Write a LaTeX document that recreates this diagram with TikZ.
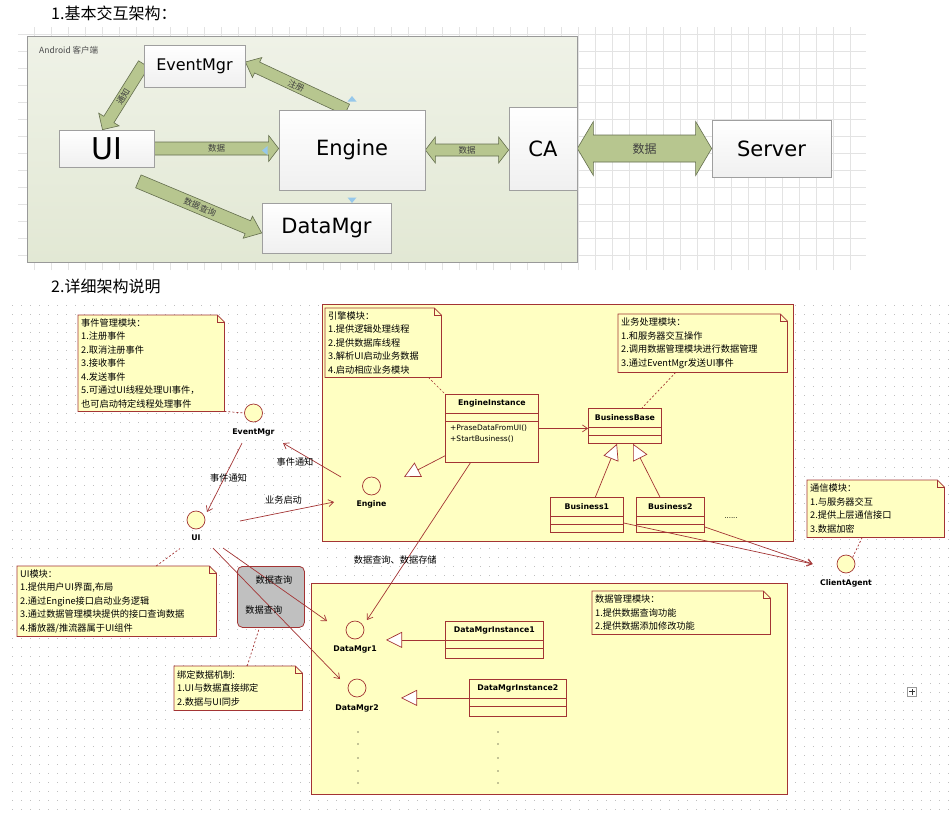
\documentclass[tikz,border=0pt]{standalone}
\usepackage{fontspec}
\setmainfont{Noto Sans CJK SC}
\newfontfamily\boxfont{DejaVu Sans}
\usetikzlibrary{arrows.meta,calc,backgrounds,positioning}

\definecolor{umlred}{RGB}{163,52,52}
\definecolor{umlyellow}{RGB}{255,255,194}
\definecolor{arrowfill}{RGB}{183,198,143}
\definecolor{arrowline}{RGB}{100,110,78}
\definecolor{droidtop}{RGB}{239,242,231}
\definecolor{droidbot}{RGB}{226,232,212}
\definecolor{handleblue}{RGB}{150,200,235}
\definecolor{selgray}{RGB}{192,192,192}

\pgfdeclarelayer{fatlayer}
\pgfsetlayers{background,fatlayer,main}

\tikzset{
  gridline/.style={draw=gray!22, line width=0.5pt},
  dotrow/.style={draw=gray!50, line width=0.9pt, dash pattern=on 0.9pt off 8.1pt},
  droidbox/.style={draw=gray!80, top color=droidtop, bottom color=droidbot, line width=0.7pt},
  topbox/.style={draw=gray!75, top color=white, bottom color=gray!12, inner sep=0pt, font=\boxfont, line width=0.7pt},
  fatarrow/.style={draw=arrowline, fill=arrowfill, line width=0.6pt, line join=miter},
  fatlabel/.style={font=\fontsize{8.5}{9}\selectfont, text=black!75},
  pkg/.style={draw=umlred, fill=umlyellow, line width=0.8pt, inner sep=0pt, anchor=north west},
  selbox/.style={draw=umlred, fill=selgray, rounded corners=5pt, line width=0.8pt, inner sep=0pt, anchor=north west},
  notebox/.style={inner sep=3pt, align=left, anchor=north west, font=\fontsize{9.2}{13.5}\selectfont},
  noteline/.style={draw=umlred, fill=umlyellow, line width=0.8pt},
  notelink/.style={draw=umlred, line width=0.7pt, dash pattern=on 2pt off 2pt},
  iface/.style={circle, draw=umlred, fill=umlyellow, line width=0.7pt, minimum size=18pt, inner sep=0pt},
  ifacename/.style={font=\boxfont\bfseries\fontsize{7.8}{8}\selectfont, inner sep=1pt},
  classbox/.style={draw=umlred, fill=umlyellow, line width=0.8pt, inner sep=0pt, anchor=north west},
  classtitle/.style={font=\boxfont\bfseries\fontsize{7.8}{8}\selectfont, inner sep=0pt},
  classops/.style={font=\boxfont\fontsize{7.5}{10.7}\selectfont, align=left, inner sep=0pt, anchor=north west},
  flow/.style={draw=umlred, line width=0.7pt, -{Straight Barb[length=5pt,width=7pt]}},
  realize/.style={draw=umlred, line width=0.7pt, -{Triangle[length=16pt,width=16pt,fill=white]}},
  flowlabel/.style={font=\fontsize{9.2}{10}\selectfont, inner sep=1pt},
}

% fat block arrow: tail, tip, half shaft, half head, head length
\newcommand\fatarrow[5]{%
  \coordinate (fa-h) at ($(#2)!#5!(#1)$);
  \filldraw[fatarrow] ($(#1)!#3!90:(#2)$) -- ($(fa-h)!#3!90:(#2)$) -- ($(fa-h)!#4!90:(#2)$) -- (#2)
    -- ($(fa-h)!#4!-90:(#2)$) -- ($(fa-h)!#3!-90:(#2)$) -- ($(#1)!#3!-90:(#2)$) -- cycle;}
\newcommand\fatdouble[5]{%
  \coordinate (fd-a) at ($(#1)!#5!(#2)$);
  \coordinate (fd-b) at ($(#2)!#5!(#1)$);
  \filldraw[fatarrow] (#1) -- ($(fd-a)!#4!90:(#2)$) -- ($(fd-a)!#3!90:(#2)$) -- ($(fd-b)!#3!90:(#2)$)
    -- ($(fd-b)!#4!90:(#2)$) -- (#2) -- ($(fd-b)!#4!-90:(#2)$) -- ($(fd-b)!#3!-90:(#2)$)
    -- ($(fd-a)!#3!-90:(#2)$) -- ($(fd-a)!#4!-90:(#2)$) -- cycle;}
% note with folded corner
\newcommand\foldnote[1]{%
  \begin{scope}[on background layer]
    \path[noteline] (#1.north west) -- ([xshift=-7pt]#1.north east) -- ([yshift=-7pt]#1.north east)
      -- (#1.south east) -- (#1.south west) -- cycle;
    \draw[umlred, line width=0.8pt] ([xshift=-7pt]#1.north east) |- ([yshift=-7pt]#1.north east);
  \end{scope}}
% uml class: name, north west corner, width, height, title
\newcommand\umlclass[5]{%
  \node[classbox, minimum width=#3pt, minimum height=#4pt] (#1) at (#2) {};
  \node[classtitle] (#1-t) at ($(#1.north)+(0,9.5)$) {#5};
  \draw[umlred, line width=0.8pt] ($(#1.north west)+(0,19)$) -- ($(#1.north east)+(0,19)$);
  \draw[umlred, line width=0.8pt] ($(#1.north west)+(0,27)$) -- ($(#1.north east)+(0,27)$);}

\begin{document}
\begin{tikzpicture}[x=1pt, y=-1pt]
\useasboundingbox (0,0) rectangle (951,814);

\begin{scope}[on background layer]
  \fill[white] (0,0) rectangle (951,814);
  \draw[gridline, step=17pt] (18,27) grid (866,270);
  \node[droidbox, anchor=north west, minimum width=550pt, minimum height=226pt] (droid) at (27,36) {};
  \foreach \y in {305,314,...,812} \draw[dotrow] (12,\y) -- (951,\y);
  \node[pkg, minimum width=471pt, minimum height=237pt] (engpkg) at (322,304) {};
  \node[pkg, minimum width=476pt, minimum height=211pt] (dmpkg) at (311,583) {};
  \node[selbox, minimum width=67pt, minimum height=61pt] (selbox) at (237,566) {};
\end{scope}

% titles
\node[anchor=west, font=\fontsize{16}{16}\selectfont, inner sep=0pt] (title-one) at (51,13) {1.基本交互架构：};
\node[anchor=west, font=\fontsize{16}{16}\selectfont, inner sep=0pt] (title-two) at (51,286) {2.详细架构说明};

% 1. basic interaction
\node[anchor=west, font=\fontsize{8.5}{9}\selectfont, text=black!70, inner sep=0pt] (droid-l) at (39,50) {Android 客户端};
\node[topbox, minimum width=101pt, minimum height=42pt, font=\boxfont\fontsize{16}{16}\selectfont] (evtbox) at (194.5,66) {EventMgr};
\node[topbox, minimum width=95pt, minimum height=37pt, font=\boxfont\fontsize{30}{30}\selectfont] (uibox) at (106.5,148.5) {UI};
\node[topbox, minimum width=146pt, minimum height=80pt, font=\boxfont\fontsize{21}{21}\selectfont] (engbox) at (352,150) {Engine};
\node[topbox, minimum width=129pt, minimum height=50pt, font=\boxfont\fontsize{21}{21}\selectfont] (dmbox) at (326.5,228) {DataMgr};
\node[topbox, minimum width=68pt, minimum height=83pt, font=\boxfont\fontsize{21}{21}\selectfont] (cabox) at (543,148.5) {CA};
\node[topbox, minimum width=119pt, minimum height=57pt, font=\boxfont\fontsize{21}{21}\selectfont] (srvbox) at (771.5,148.5) {Server};

\coordinate (ntf-tail) at ([yshift=2pt]evtbox.west);
\coordinate (ntf-tip) at ([xshift=-4pt]uibox.north);
\coordinate (reg-tail) at ([xshift=-5pt]engbox.north);
\coordinate (reg-tip) at ([yshift=4pt]evtbox.east);
\coordinate (dat-tip) at (uibox.east -| engbox.west);
\coordinate (qry-tail) at ([xshift=-16pt,yshift=-14pt]uibox.south east);
\coordinate (qry-tip) at ([yshift=-5pt]dmbox.west);
\coordinate (ca-tip) at (engbox.east -| cabox.west);
\begin{pgfonlayer}{fatlayer}
  \fatarrow{ntf-tail}{ntf-tip}{6pt}{12pt}{12pt}
  \fatarrow{reg-tail}{reg-tip}{6pt}{11pt}{13pt}
  \fatarrow{uibox.east}{dat-tip}{6.5pt}{13pt}{10pt}
  \fatarrow{qry-tail}{qry-tip}{7pt}{12pt}{15pt}
  \fatdouble{engbox.east}{ca-tip}{6pt}{13pt}{10pt}
  \fatdouble{cabox.east}{srvbox.west}{13.5pt}{27pt}{16pt}
\end{pgfonlayer}
\path (ntf-tail) -- (ntf-tip) node[midway, sloped, fatlabel] {通知};
\path (reg-tail) -- (reg-tip) node[midway, sloped, fatlabel] {注册};
\path (uibox.east) -- (dat-tip) node[midway, fatlabel] {数据};
\path (qry-tail) -- (qry-tip) node[midway, sloped, fatlabel] {数据查询};
\path (engbox.east) -- (ca-tip) node[midway, fatlabel] {数据};
\path (cabox.east) -- (srvbox.west) node[midway, fatlabel, font=\fontsize{12}{12}\selectfont] {数据};

% selection handles
\fill[handleblue] (352,96) -- (356.5,101.5) -- (347.5,101.5) -- cycle;
\fill[handleblue] (352,203) -- (356.5,197.5) -- (347.5,197.5) -- cycle;
\fill[handleblue] (262,150.5) -- (267.5,146) -- (267.5,155) -- cycle;

% 2. detailed architecture: notes
\node[notebox, minimum width=146pt, minimum height=96pt, text width=140pt] (evnote) at (78,315)
  {事件管理模块：\\1.注册事件\\2.取消注册事件\\3.接收事件\\4.发送事件\\5.可通过UI线程处理UI事件，\\也可启动特定线程处理事件};
\foldnote{evnote}
\node[notebox, minimum width=116pt, minimum height=69pt, text width=110pt] (engnote) at (325,308)
  {引擎模块：\\1.提供逻辑处理线程\\2.提供数据库线程\\3.解析UI启动业务数据\\4.启动相应业务模块};
\foldnote{engnote}
\node[notebox, minimum width=169pt, minimum height=58pt, text width=163pt] (biznote) at (618,314)
  {业务处理模块：\\1.和服务器交互操作\\2.调用数据管理模块进行数据管理\\3.通过EventMgr发送UI事件};
\foldnote{biznote}
\node[notebox, minimum width=137pt, minimum height=57pt, text width=131pt] (comnote) at (807,480)
  {通信模块：\\1.与服务器交互\\2.提供上层通信接口\\3.数据加密};
\foldnote{comnote}
\node[notebox, minimum width=199pt, minimum height=70pt, text width=193pt] (uinote) at (17,566)
  {UI模块：\\1.提供用户UI界面,布局\\2.通过Engine接口启动业务逻辑\\3.通过数据管理模块提供的接口查询数据\\4.播放器/推流器属于UI组件};
\foldnote{uinote}
\node[notebox, minimum width=128pt, minimum height=44pt, text width=122pt] (bindnote) at (174,666)
  {绑定数据机制:\\1.UI与数据直接绑定\\2.数据与UI同步};
\foldnote{bindnote}
\node[notebox, minimum width=178pt, minimum height=43pt, text width=172pt] (dmnote) at (592,591)
  {数据管理模块：\\1.提供数据查询功能\\2.提供数据添加修改功能};
\foldnote{dmnote}

% interfaces
\node[iface] (evt) at (253.5,413) {};
\node[ifacename, below=5pt of evt] (evt-l) {EventMgr};
\node[iface] (ui) at (196,520) {};
\node[ifacename, below=4pt of ui] (ui-l) {UI};
\node[iface] (eng) at (371.5,486) {};
\node[ifacename, below=4pt of eng] (eng-l) {Engine};
\node[iface] (ca) at (846,564) {};
\node[ifacename, below=5pt of ca] (ca-l) {ClientAgent};
\node[iface] (dmone) at (355,630) {};
\node[ifacename, below=5pt of dmone] (dmone-l) {DataMgr1};
\node[iface] (dmtwo) at (357,688) {};
\node[ifacename, below=6pt of dmtwo] (dmtwo-l) {DataMgr2};

% classes
\umlclass{ei}{445,394}{93}{68}{EngineInstance}
\node[classops] (ei-ops) at ($(ei.north west)+(5,31)$) {+PraseDataFromUI()\\+StartBusiness()};
\umlclass{bb}{588,408}{73}{35}{BusinessBase}
\umlclass{bone}{550,497}{73}{35}{Business1}
\umlclass{btwo}{636,497}{68}{35}{Business2}
\node[font=\boxfont\fontsize{7}{7}\selectfont, inner sep=0pt] (more) at (731,518) {......};
\umlclass{dmione}{445,621}{98}{37}{DataMgrInstance1}
\umlclass{dmitwo}{469,679}{97}{37}{DataMgrInstance2}
\foreach \y in {732,744,758,771,783} {
  \fill (358,\y) circle (0.7pt);
  \fill (498,\y) circle (0.7pt);
}

% connectors
\draw[flow] ([xshift=-11.5pt,yshift=-6pt]evt-l.south) -- ([xshift=11pt,yshift=8pt]ui.center)
  node[midway, xshift=4pt, flowlabel] {事件通知};
\draw[flow] ([xshift=-30.5pt,yshift=9pt]eng.center) -- ([xshift=29.5pt,yshift=-6pt]evt-l.south)
  node[midway, xshift=-17pt, yshift=-2pt, flowlabel] {事件通知};
\draw[flow] ([xshift=44pt,yshift=-1pt]ui.center) -- ([xshift=-37.5pt,yshift=-16pt]eng.center)
  node[midway, xshift=-3.5pt, yshift=11.5pt, flowlabel] {业务启动};
\draw[realize] ([yshift=7pt]ei.south west) -- ([xshift=32.5pt,yshift=9pt]eng.center);
\draw[flow] (ei.east) -- (ei.east -| bb.west);
\draw[realize] ([xshift=8.5pt]bone.north) -- ([xshift=29pt]bb.south west);
\draw[realize] ([xshift=-10.5pt]btwo.north) -- ([xshift=45pt]bb.south west);
\draw[flow] ([yshift=-26pt]bone.north east) -- ([xshift=-24pt]ca.west);
\draw[flow] ([yshift=-30pt]btwo.north east) -- ([xshift=-24pt]ca.west);
\draw[flow] ([xshift=-21.5pt]ei.south) -- ([xshift=12pt,yshift=10pt]dmone.center)
  node[pos=0.62, xshift=-11pt, flowlabel] {数据查询、数据存储};
\draw[flow] ([xshift=27pt,yshift=-28pt]ui.center) -- ([xshift=-28pt,yshift=9pt]dmone.center)
  node[pos=0.49, yshift=4pt, flowlabel] {数据查询};
\draw[flow] ([xshift=17pt,yshift=-28pt]ui.center) -- ([xshift=-17pt,yshift=9pt]dmtwo.center)
  node[pos=0.4, yshift=-10pt, flowlabel] {数据查询};
\draw[realize] (dmione.west) -- ([xshift=-59pt]dmione.west);
\draw[realize] (dmitwo.west) -- ([xshift=-68pt]dmitwo.west);

% note links
\draw[notelink] (evnote.south east) -- (evt.west);
\draw[notelink] ([xshift=-13pt]engnote.south east) -- (ei.north west);
\draw[notelink] ([xshift=-27pt]biznote.south) -- ([xshift=54pt]bb.north west);
\draw[notelink] ([xshift=-13.5pt]comnote.south) -- (ca.north east);
\draw[notelink] ([xshift=39.5pt]uinote.north) -- ([xshift=-16pt,yshift=-7pt]ui-l.south);
\draw[notelink] ([xshift=9pt]bindnote.north) -- ([xshift=-11.5pt]selbox.south);

% expand icon
\node[draw=gray!80, fill=white, minimum size=9pt, inner sep=0pt] (expand) at (912,691.5) {};
\draw[black!80, line width=0.6pt] ([xshift=-3pt]expand.center) -- ([xshift=3pt]expand.center)
  ([yshift=-3pt]expand.center) -- ([yshift=3pt]expand.center);
\end{tikzpicture}
\end{document}
